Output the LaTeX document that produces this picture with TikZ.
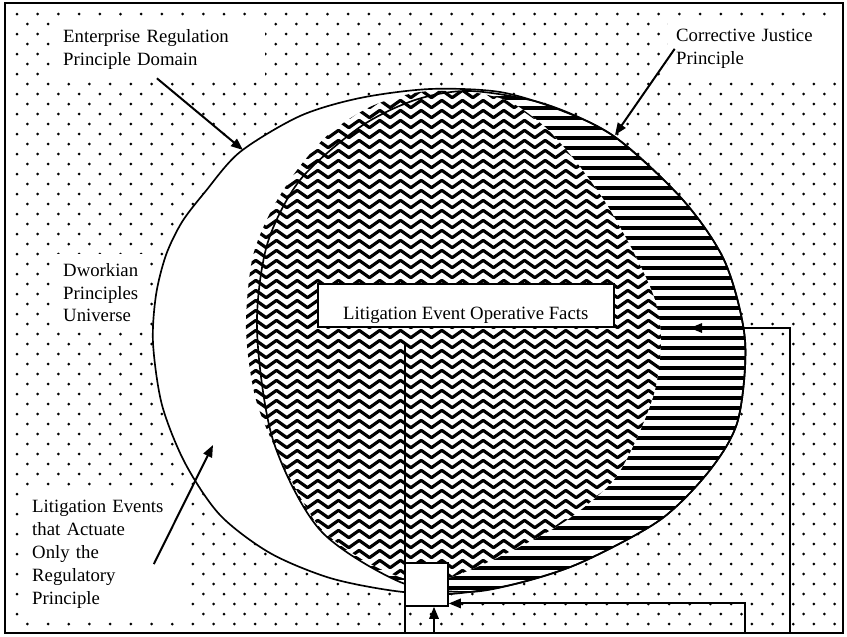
\documentclass[tikz,border=0pt]{standalone}
\usepackage{fontspec}
\setmainfont{Liberation Serif}
\usetikzlibrary{arrows.meta,decorations.pathmorphing}

% outlines of the three domains (picture units)
\def\bigdomain{plot[smooth cycle] coordinates {(153,343) (156,295) (166,255) (182,222) (205,192) (240,152) (300,116) (360,98) (430,89) (500,92) (560,110) (615,137) (683,200) (725,262) (745,340) (738,420) (710,470) (660,520) (580,563) (515,584) (450,594) (395,591) (330,578) (270,553) (220,515) (185,463) (162,405)}}
\def\cjdomain{plot[smooth cycle] coordinates {(470,91) (545,104) (615,137) (683,200) (725,262) (745,340) (738,420) (710,470) (660,520) (580,563) (515,584) (465,592) (400,582) (320,530) (273,440) (257,330) (267,245) (300,180) (360,127) (415,100)}}
\def\factdomain{plot[smooth cycle] coordinates {(420,92) (470,92) (510,102) (545,127) (577,163) (607,205) (635,255) (655,300) (661,340) (655,390) (636,440) (612,482) (567,520) (523,545) (477,567) (440,580) (403,578) (360,558) (318,525) (282,462) (256,400) (246,330) (252,260) (270,213) (297,170) (330,133) (372,106)}}

\tikzset{
  lbl/.style={fill=white, align=left, anchor=north west, inner xsep=2.4mm, inner ysep=2.7mm,
    font=\fontsize{16}{19.5}\selectfont},
  arr/.style={line width=0.6mm, -{Triangle[length=3.6mm,width=2.8mm]}},
  rim/.style={line width=0.5mm},
  boxed/.style={draw, fill=white, line width=0.45mm, inner sep=0pt},
}

\begin{document}
\begin{tikzpicture}[x=0.3mm, y=-0.3mm]
  \useasboundingbox (0,0) rectangle (847,636);

  % dotted universe
  \begin{scope}
    \clip (5,3) rectangle (843,633);
    \foreach \r in {0,...,62}{
      \pgfmathsetmacro\off{17+mod(\r,2)*10.35}
      \foreach \c in {0,...,40}
        \fill (\off+\c*20.7, 14+\r*10) circle[radius=0.45mm];
    }
  \end{scope}

  % labels
  \node[lbl, text width=58.2mm] (erp) at (55,20) {Enterprise Regulation\\Principle Domain};
  \node[lbl, text width=46.2mm] (cjp) at (668,20) {Corrective Justice\\Principle};
  \node[lbl, text width=23.7mm] (dpu) at (55,254) {Dworkian\\Principles\\Universe};
  \node[lbl, text width=45mm] (lea) at (24,491) {Litigation Events\\that Actuate\\Only the\\Regulatory\\Principle};

  % enterprise regulation domain
  \fill[white] \bigdomain;
  \draw[rim] \bigdomain;

  % corrective justice
  \begin{scope}
    \clip \cjdomain;
    \foreach \y in {88,98,...,598}
      \draw[line width=1.05mm] (240,\y) -- (760,\y);
  \end{scope}

  % operative facts
  \fill[white] \factdomain;
  \begin{scope}
    \clip \factdomain;
    \foreach \y in {84,94,...,594}
      \draw[line width=0.95mm, line join=round, decorate,
        decoration={zigzag, segment length=6.2mm, amplitude=1.1mm}] (230,\y) -- (680,\y);
  \end{scope}
  \draw[rim] \cjdomain;

  \node[boxed, anchor=north west, minimum width=88.8mm, text height=10.8mm, text depth=2.1mm,
    font=\fontsize{16}{19.5}\selectfont] (facts) at (317,283) {Litigation Event Operative Facts};

  \coordinate (base) at (0,633);
  \coordinate (stem) at (405,345);
  \draw[line width=0.6mm] (stem) -- (stem |- base);
  \node[boxed, minimum size=12.9mm] (gap) at (426.5,584.5) {};

  % arrows
  \coordinate (ertip) at (243,150);
  \coordinate (cjtip) at (615,135);
  \coordinate (crescent) at (213,445);
  \coordinate (cjin) at (690,328);
  \coordinate (up) at (434,633);
  \coordinate (loopa) at (745,633);
  \coordinate (loopb) at (790,633);

  \draw[arr] ([xshift=-1mm]erp.south) -- (ertip);
  \draw[arr] ([xshift=2mm]cjp.west) -- (cjtip);
  \draw[arr] ([xshift=-11mm,yshift=-3mm]lea.east) -- (crescent);
  \draw[arr] (up) -- (up |- gap.south);
  \draw[arr] (loopa) |- ([yshift=1mm]gap.south east);
  \draw[arr] (loopb) |- (cjin);

  % frame
  \draw[line width=0.7mm] (5,3) rectangle (843,633);
\end{tikzpicture}
\end{document}
